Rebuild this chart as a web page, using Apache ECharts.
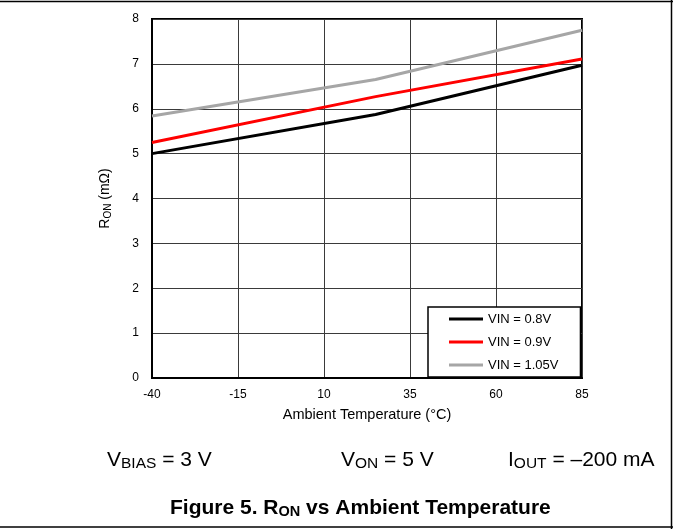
<!DOCTYPE html>
<html>
<head>
<meta charset="utf-8">
<script src="https://cdn.jsdelivr.net/npm/echarts@6/dist/echarts.min.js"></script>
<style>
  html, body { margin: 0; padding: 0; background: #fff; }
  #main { width: 673px; height: 529px; }
</style>
</head>
<body>
<div id="main"></div>
<script>
// 数据
const temps = [-40, 25, 85];
const vin08 = [5.0, 5.87, 6.97];
const vin09 = [5.25, 6.27, 7.11];
const vin105 = [5.84, 6.65, 7.75];
const seriesNames = ['VIN = 0.8V', 'VIN = 0.9V', 'VIN = 1.05V'];
const seriesColors = ['#000000', '#ff0000', '#a6a6a6'];

const font = 'Liberation Sans, Arial, sans-serif';

function pairs(ys) {
  return temps.map((t, i) => [t, ys[i]]);
}

const chart = echarts.init(document.getElementById('main'), null, { renderer: 'canvas' });

// 下标样式
const subStyle = (size) => ({
  fontSize: size,
  lineHeight: size,
  verticalAlign: 'bottom',
  fontFamily: font,
  color: '#000'
});

const option = {
  backgroundColor: '#fff',
  animation: false,
  grid: {
    left: 152,
    right: 91,
    top: 19,
    bottom: 151,
    show: true,
    borderColor: '#000',
    borderWidth: 2
  },
  legend: {
    orient: 'vertical',
    left: 428,
    top: 307,
    padding: [5, 22, 5, 21],
    itemWidth: 34,
    itemHeight: 14,
    itemGap: 9,
    icon: 'path://M0,0 L34,0 L34,3 L0,3 Z',
    backgroundColor: '#fff',
    borderColor: '#000',
    borderWidth: 1.5,
    borderRadius: 0,
    textStyle: { fontFamily: font, fontSize: 13, lineHeight: 14, color: '#000' },
    data: seriesNames
  },
  xAxis: {
    type: 'value',
    min: -40,
    max: 85,
    interval: 25,
    name: 'Ambient Temperature (°C)',
    nameLocation: 'middle',
    nameGap: 29,
    nameTextStyle: { fontFamily: font, fontSize: 14.5, color: '#000' },
    axisLine: { show: true, onZero: false, lineStyle: { color: '#000', width: 2 } },
    axisTick: { show: false },
    axisLabel: { fontFamily: font, fontSize: 12, color: '#000', margin: 11 },
    splitLine: { show: true, lineStyle: { color: '#3a3a3a', width: 1 } }
  },
  yAxis: {
    type: 'value',
    min: 0,
    max: 8,
    interval: 1,
    name: 'R{sub|ON} (mΩ)',
    nameLocation: 'middle',
    nameGap: 39,
    nameTextStyle: {
      fontFamily: font, fontSize: 14, color: '#000', lineHeight: 16,
      rich: { sub: subStyle(10) }
    },
    axisLine: { show: true, onZero: false, lineStyle: { color: '#000', width: 2 } },
    axisTick: { show: false },
    axisLabel: { fontFamily: font, fontSize: 12, color: '#000', margin: 13 },
    splitLine: { show: true, lineStyle: { color: '#3a3a3a', width: 1 } }
  },
  series: [vin08, vin09, vin105].map((ys, i) => ({
    name: seriesNames[i],
    type: 'line',
    data: pairs(ys),
    symbol: 'none',
    color: seriesColors[i],
    lineStyle: { color: seriesColors[i], width: 3 }
  })),
  graphic: [
    // 外框线
    { type: 'line', shape: { x1: 0, y1: 1.5, x2: 673, y2: 1.5 }, style: { stroke: '#000', lineWidth: 1.5 }, silent: true },
    { type: 'line', shape: { x1: 671.5, y1: 0, x2: 671.5, y2: 529 }, style: { stroke: '#000', lineWidth: 1.5 }, silent: true },
    { type: 'line', shape: { x1: 0, y1: 527, x2: 673, y2: 527 }, style: { stroke: '#000', lineWidth: 1.5 }, silent: true },
    // 条件说明
    {
      type: 'text', left: 107, top: 448, silent: true,
      style: {
        text: 'V{sub|BIAS} = 3 V',
        fontFamily: font, fontSize: 21, lineHeight: 24, fill: '#000',
        rich: { sub: subStyle(15.5) }
      }
    },
    {
      type: 'text', left: 341, top: 448, silent: true,
      style: {
        text: 'V{sub|ON} = 5 V',
        fontFamily: font, fontSize: 21, lineHeight: 24, fill: '#000',
        rich: { sub: subStyle(15.5) }
      }
    },
    {
      type: 'text', left: 508, top: 448, silent: true,
      style: {
        text: 'I{sub|OUT} = \u2013200 mA',
        fontFamily: font, fontSize: 21, lineHeight: 24, fill: '#000',
        rich: { sub: subStyle(15.5) }
      }
    },
    // 图标题
    {
      type: 'text', left: 170, top: 497, silent: true,
      style: {
        text: 'Figure 5. R{sub|ON} vs Ambient Temperature',
        fontFamily: font, fontSize: 21, fontWeight: 'bold', lineHeight: 22, fill: '#000',
        rich: { sub: Object.assign(subStyle(14.5), { fontWeight: 'bold' }) }
      }
    }
  ]
};

chart.setOption(option);
</script>
</body>
</html>
